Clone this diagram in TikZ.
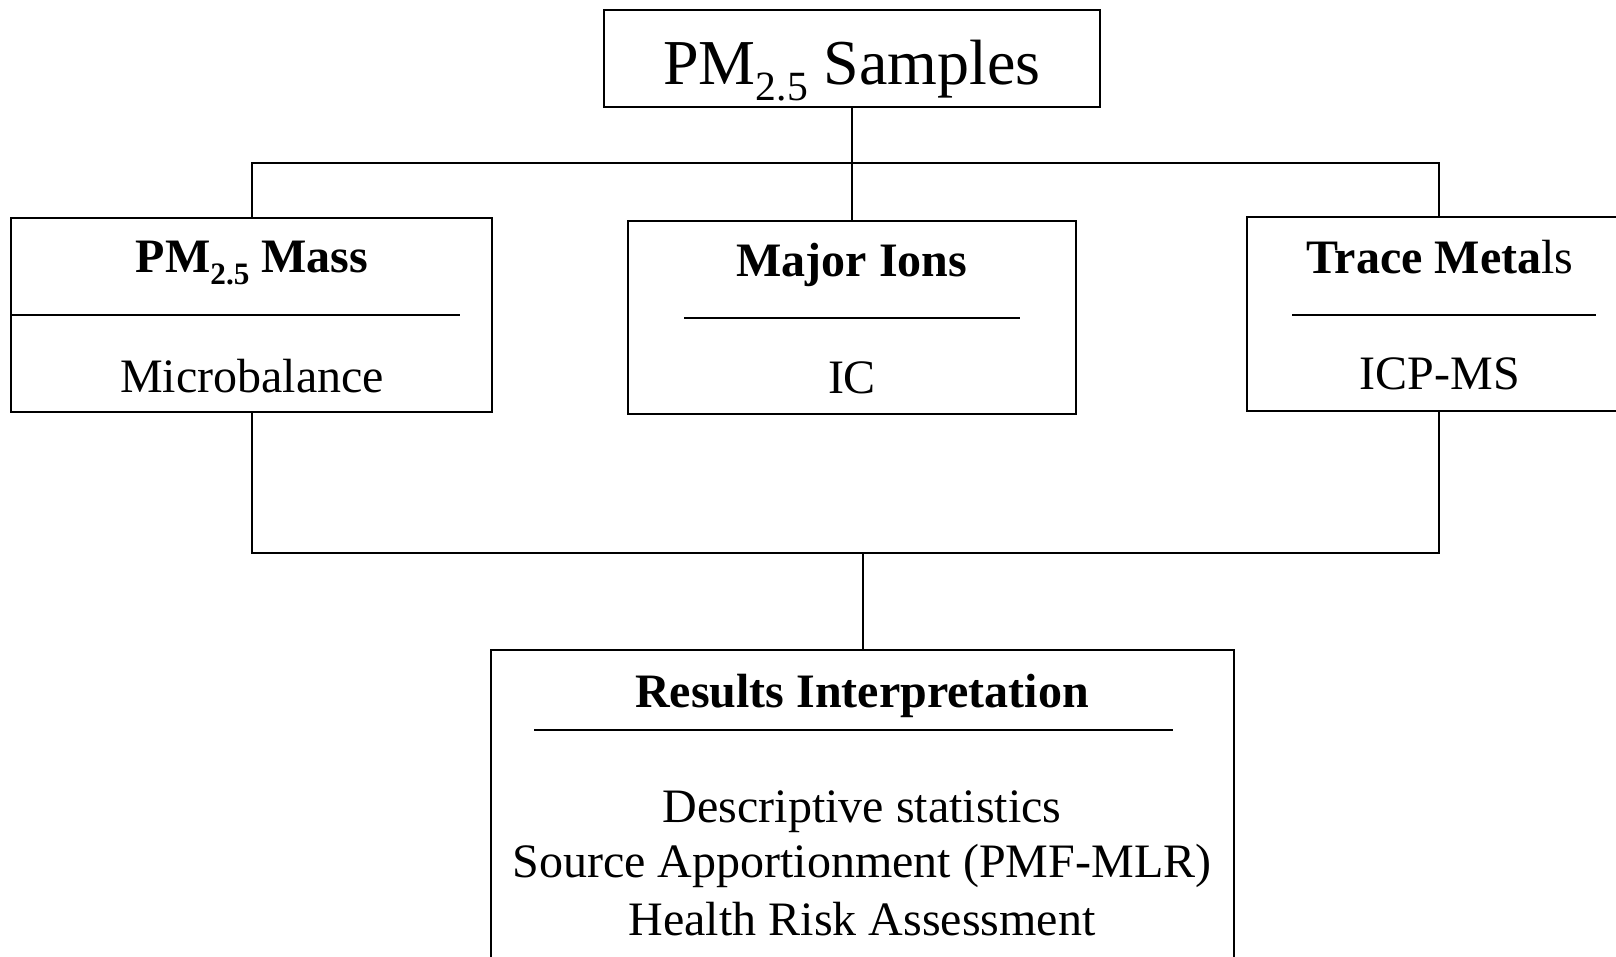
\documentclass[tikz,border=0pt]{standalone}
\usepackage{fontspec}
\setmainfont{Liberation Serif}
\usepackage{graphicx}
\newcommand\pmsubs[1]{\raisebox{-0.25em}{\scalebox{0.65}{#1}}}
\begin{document}
\begin{tikzpicture}[x=0.5pt,y=-0.5pt,
  box/.style={draw, line width=1pt, inner sep=0pt},
  conn/.style={line width=1pt},
  sepline/.style={line width=1pt},
  big/.style={font=\fontsize{32}{38}\selectfont, anchor=base, inner sep=0pt},
  txt/.style={font=\fontsize{24}{28}\selectfont, anchor=base, inner sep=0pt},
  hd/.style={font=\fontsize{24}{28}\selectfont\bfseries, anchor=base, inner sep=0pt}]
\useasboundingbox (0,0) rectangle (1616,957);
\fill[white] (0,0) rectangle (1616,957);
\clip (0,0) rectangle (1616,957);

% boxes
\node[box, minimum width=248pt, minimum height=48.5pt] (top) at (852,58.5) {};
\node[box, minimum width=240.5pt, minimum height=97pt] (lb) at (251.5,315) {};
\node[box, minimum width=224pt, minimum height=96.5pt] (mb) at (852,317.5) {};
\node[box, minimum width=201.5pt, minimum height=97pt] (rb) at (1448.5,314) {};
\node[box, minimum width=371.5pt, minimum height=175pt] (bb) at (862.5,825) {};

% separators
\draw[sepline] (12,315) -- (460,315);
\draw[sepline] (684,318) -- (1020,318);
\draw[sepline] (1292,315) -- (1596,315);
\draw[sepline] (534,730) -- (1173,730);

% connector points
\coordinate (bus) at (852,163);
\coordinate (rbtop) at (1439,217);
\coordinate (rbbot) at (1439,411);
\coordinate (lbus) at (862.5,553);

% connectors
\draw[conn] (top.south) -- (mb.north);
\draw[conn] (lb.north) |- (bus) -| (rbtop);
\draw[conn] (lb.south) |- (lbus) -| (rbbot);
\draw[conn] (lbus) -- (bb.north);

% texts
\node[big] (tt) at (852,84.5) {PM\pmsubs{2.5} Samples};
\node[hd] (lbh) at (252,272) {PM\pmsubs{2.5} Mass};
\node[txt] (lbx) at (252,392) {Microbalance};
\node[hd] (mbh) at (852,277) {Major Ions};
\node[txt] (mbx) at (852,393) {IC};
\node[hd] (rbh) at (1440,273) {Trace Meta\textmd{ls}};
\node[txt] (rbx) at (1440,389) {ICP-MS};
\node[hd] (bbh) at (862,707) {Results Interpretation};
\node[txt] (bb1) at (862,822) {Descriptive statistics};
\node[txt] (bb2) at (862,877) {Source Apportionment (PMF-MLR)};
\node[txt] (bb3) at (862,935) {Health Risk Assessment};
\end{tikzpicture}
\end{document}
